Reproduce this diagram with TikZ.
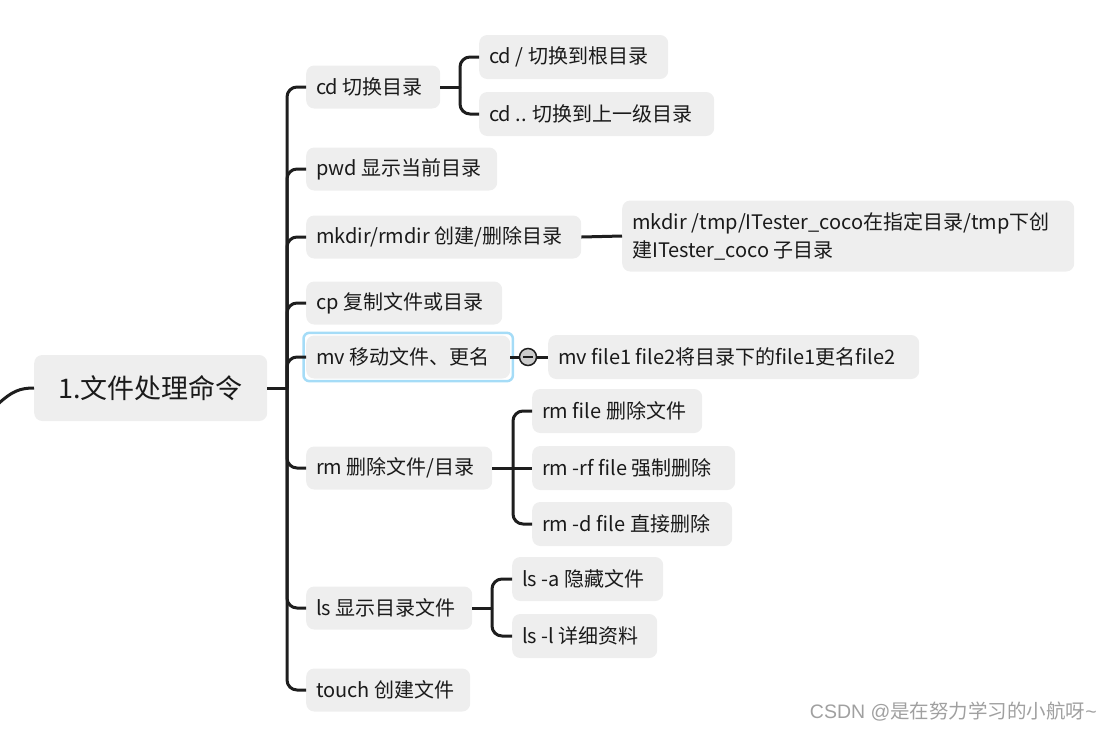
\documentclass[tikz,border=0pt]{standalone}
\usepackage{fontspec}
\setmainfont{Noto Sans CJK SC}
\newfontfamily\wmlat{Liberation Sans}
\usetikzlibrary{fit}
\definecolor{nodegray}{HTML}{EEEEEE}
\definecolor{ln}{HTML}{1E1E1E}
\definecolor{txt}{HTML}{1A1A1A}
\definecolor{hl}{HTML}{A5DCF7}
\definecolor{wmgray}{HTML}{A0A0A0}
\newcommand\mb[2]{\makebox[\dimexpr#1pt-20pt\relax][l]{#2}}
\begin{document}
\begin{tikzpicture}[x=1pt,y=-1pt,
  box/.style={fill=nodegray, rounded corners=8pt, inner xsep=10pt, inner ysep=0pt,
    minimum height=43pt, font=\fontsize{20}{24}\selectfont, text=txt, anchor=west},
  conn/.style={draw=ln, line width=3pt, rounded corners=10pt}]
\useasboundingbox (0,0) rectangle (1110,732);

% root
\node[box, minimum height=66pt, minimum width=233pt, font=\fontsize{27}{32}\selectfont] (root) at (34,388) {1.文件处理命令};

% children
\node[box] (cd) at (306,87) {\mb{134}{cd 切换目录}};
\node[box] (pwd) at (306,169) {\mb{191}{pwd 显示当前目录}};
\node[box] (mk) at (306,237) {\mb{275}{mkdir/rmdir 创建/删除目录}};
\node[box] (cp) at (306,303) {\mb{196}{cp 复制文件或目录}};
\node[box] (mv) at (306,357) {\mb{204}{mv 移动文件、更名}};
\node[box] (rm) at (306,468) {\mb{186}{rm 删除文件/目录}};
\node[box] (ls) at (306,608) {\mb{166}{ls 显示目录文件}};
\node[box] (touch) at (306,690) {\mb{164}{touch 创建文件}};

% grandchildren
\node[box, minimum height=44pt] (cd1) at (479,57) {\mb{189}{cd / 切换到根目录}};
\node[box, minimum height=44pt] (cd2) at (479,114) {\mb{235}{cd .. 切换到上一级目录}};
\node[box, minimum height=71pt, align=left, font=\fontsize{20}{28}\selectfont] (mk2) at (622,236) {\mb{452}{mkdir /tmp/ITester\_coco在指定目录/tmp下创}\\\mb{452}{建ITester\_coco 子目录}};
\node[box, minimum height=44pt] (mvc) at (548,357) {\mb{371}{mv file1 file2将目录下的file1更名file2}};
\node[box, minimum height=44pt] (rm1) at (532,411) {\mb{170}{rm file 删除文件}};
\node[box, minimum height=44pt] (rm2) at (532,468) {\mb{203}{rm -rf file 强制删除}};
\node[box, minimum height=44pt] (rm3) at (532,524) {\mb{200}{rm -d file 直接删除}};
\node[box, minimum height=44pt] (ls1) at (512,579) {\mb{151}{ls -a 隐藏文件}};
\node[box, minimum height=44pt] (ls2) at (512,636) {\mb{145}{ls -l 详细资料}};

% highlight around mv
\node[draw=hl, line width=2.5pt, rounded corners=6pt, inner sep=2.5pt, fit=(mv)] (mvhl) {};

% junctions
\coordinate (jr) at (287,388);
\coordinate (jcd) at (460,87);
\coordinate (jrm) at (513,468);
\coordinate (jls) at (492,608);
\coordinate (lstub) at (-3,405);

% connectors
\draw[conn] (lstub) .. controls (12,391) and (20,388) .. (root.west);
\draw[conn] (root.east) -- (jr);
\foreach \c in {cd,pwd,mk,cp,mv,rm,ls,touch}{
  \draw[conn] (jr) |- (\c.west);
}
\draw[conn] (cd.east) -- (jcd);
\draw[conn] (jcd) |- (cd1.west);
\draw[conn] (jcd) |- (cd2.west);
\draw[conn] (mk.east) -- (mk2.west);
\draw[conn] (mv.east) -- (mvc.west);
\draw[conn] (rm.east) -- (rm2.west);
\draw[conn] (jrm) |- (rm1.west);
\draw[conn] (jrm) |- (rm3.west);
\draw[conn] (ls.east) -- (jls);
\draw[conn] (jls) |- (ls1.west);
\draw[conn] (jls) |- (ls2.west);

% collapse circle
\node[circle, draw=ln, fill=gray!40, line width=1.5pt, minimum size=17pt, inner sep=0pt] (col) at (528,357) {};
\draw[draw=ln, line width=1.5pt] ([xshift=-5pt]col.center) -- ([xshift=5pt]col.center);

% watermark
\node[anchor=east, text=wmgray, font=\fontsize{19.5}{22}\selectfont, inner sep=0pt] (wm) at (1097,712) {{\wmlat CSDN @}是在努力学习的小航呀{\wmlat \textasciitilde}};
\end{tikzpicture}
\end{document}
